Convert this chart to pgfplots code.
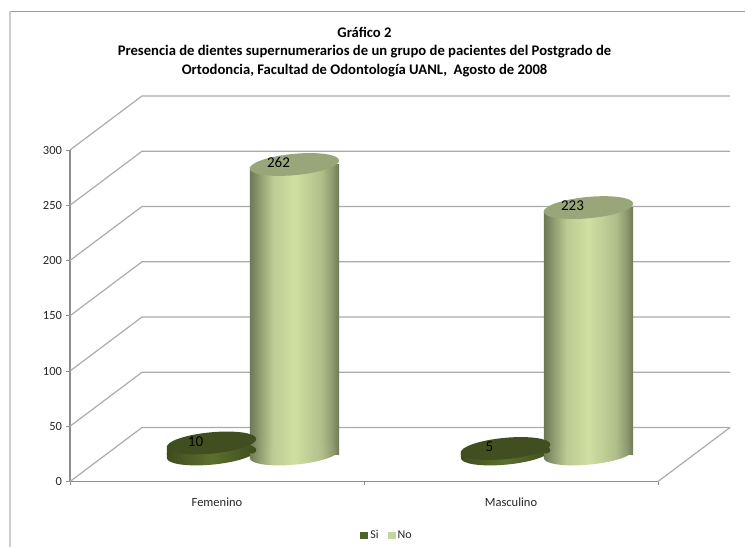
\documentclass[border=0pt]{standalone}
\usepackage{pgfplots}
\usepackage{pgfplotstable}
\usepackage{fontspec}
\setmainfont{Carlito}
\pgfplotsset{compat=1.18}

\definecolor{gridgray}{HTML}{ABABAB}
\definecolor{axisgray}{HTML}{8C8C8C}
\definecolor{labelgray}{HTML}{262626}
\definecolor{sikey}{HTML}{4F6228}
\definecolor{nokey}{HTML}{C3D69B}
\definecolor{sitop}{HTML}{414F20}
\definecolor{notop}{HTML}{98A67A}
\definecolor{noA}{HTML}{6D7855}
\definecolor{noB}{HTML}{98A678}
\definecolor{noC}{HTML}{BCCB93}
\definecolor{noD}{HTML}{CFE0A2}
\definecolor{noE}{HTML}{B0BF8A}
\definecolor{noF}{HTML}{8F9C70}
\definecolor{siA}{HTML}{3E4C1C}
\definecolor{siB}{HTML}{5C702E}

% cylinder side shadings: the path's width spans 25bp..75bp
\pgfdeclarehorizontalshading{cylno}{100bp}{
  color(0bp)=(noA); color(25bp)=(noA); color(32bp)=(noB); color(38bp)=(noC);
  color(50bp)=(noD); color(65bp)=(noE); color(71bp)=(noF); color(75bp)=(noA);
  color(100bp)=(noA)}
\pgfdeclarehorizontalshading{cylsi}{100bp}{
  color(0bp)=(siA); color(25bp)=(siA); color(50bp)=(siB); color(75bp)=(siA);
  color(100bp)=(siA)}

% cylinder ends: tilted ellipses seen in perspective
\newcommand{\cylellipse}{\pgfpathellipse{\pgfpointorigin}{\pgfpoint{44.7pt}{4.2pt}}{\pgfpoint{-1pt}{10.6pt}}}
% the base also closes the wedge between its low left end and the side
\newcommand{\cylbase}{\cylellipse
  \pgfpathrectangle{\pgfpoint{-44.7pt}{-4.2pt}}{\pgfpoint{8pt}{4.8pt}}}
\pgfdeclareplotmark{baseno}{\cylbase\pgfshadepath{cylno}{0}\pgfusepath{discard}}
\pgfdeclareplotmark{basesi}{\cylbase\pgfshadepath{cylsi}{0}\pgfusepath{discard}}
\newcommand{\cylcorner}{%
  \pgfsetfillcolor{white}%
  \pgfpathrectangle{\pgfpoint{-45.5pt}{-3pt}}{\pgfpoint{6.5pt}{3.6pt}}%
  \pgfusepathqfill}
\pgfdeclareplotmark{topno}{\cylcorner\pgfsetfillcolor{notop}\cylellipse\pgfusepathqfill}
\pgfdeclareplotmark{topsi}{\cylcorner\pgfsetfillcolor{sitop}\cylellipse\pgfusepathqfill}

% one small table per cylinder: Si and No, Femenino and Masculino
\pgfplotstableread{
x     v
0.359 10
}\siFem
\pgfplotstableread{
x     v
1.359 5
}\siMas
\pgfplotstableread{
x     v
0.641 262
}\noFem
\pgfplotstableread{
x     v
1.641 223
}\noMas

% a complete cylinder: base ellipse, shaded side and labelled top
\newcommand{\cylinder}[4]{%
  \addplot[forget plot,only marks,mark=#2] table[x=x,y expr=0] {#1};
  \addplot[forget plot,ybar,/pgf/bar shift=0pt,bar width=89.4pt,draw=none,shading=#3] table[x=x,y=v] {#1};
  \addplot[forget plot,only marks,mark=#4,nodes near coords] table[x=x,y=v] {#1};
}

\begin{document}
\begin{tikzpicture}[x=1pt,y=1pt]
\path[use as bounding box] (0,0) rectangle (745,547);

% chart frame
\draw[color=black!40,line width=0.9pt] (10,536) -- (745,536);
\draw[color=black!20,line width=2pt] (10,536) -- (10,0);

% title
\node[align=center,font=\fontsize{14.65}{18.5}\selectfont\bfseries,text=black] at (364.5,495)
  {Gráfico 2\\Presencia de dientes supernumerarios de un grupo de pacientes del Postgrado de\\Ortodoncia, Facultad de Odontología UANL,\ \ Agosto de 2008};

% front plane: the value and category axes
\begin{axis}[
  at={(70pt,65.5pt)},anchor=south west,
  scale only axis,width=588pt,height=331.5pt,
  clip=false,
  xmin=0,xmax=2,ymin=0,ymax=300,
  axis lines=left,
  axis line style={-,color=axisgray,line width=1.1pt},
  ytick={0,50,100,150,200,250,300},
  xtick={0.5,1.5},
  xticklabels={Femenino,Masculino},
  minor xtick={0,1,2},
  tick align=outside,
  major tick length=3.5pt,
  minor tick length=3.5pt,
  ytick style={color=axisgray,line width=0.8pt},
  xtick style={draw=none},
  minor x tick style={draw=axisgray,line width=0.8pt},
  ticklabel style={font=\fontsize{12.5}{14}\selectfont,text=labelgray},
  /pgf/number format/assume math mode=true,
  xticklabel style={yshift=-9pt},
  yticklabel style={xshift=-1pt},
]
% side wall and back wall lines for every value step
\pgfplotsinvokeforeach{0,50,100,150,200,250,300}{
  \draw[color=gridgray,line width=1.2pt,line join=round] (axis cs:0,#1) -- ++(72pt,54pt) -- ++(588pt,0pt);
}
\draw[color=gridgray,line width=1.2pt] (axis cs:2,0) -- ++(72pt,54pt);
\end{axis}

% the cylinders stand half way into the depth of the floor
\begin{axis}[
  at={(106pt,93pt)},anchor=south west,
  scale only axis,width=588pt,height=331.5pt,
  clip=false,hide axis,
  xmin=0,xmax=2,ymin=0,ymax=300,
  /pgf/number format/assume math mode=true,
  every node near coord/.append style={anchor=center,xshift=-16pt,yshift=1.5pt,
    font=\fontsize{15}{17}\selectfont,text=black},
  legend style={at={(0.478,-0.246)},anchor=center,draw=none,fill=none,
    legend columns=2,font=\fontsize{12}{14}\selectfont,text=labelgray,
    /tikz/every even column/.append style={column sep=7pt},
    inner sep=0pt},
  legend image code/.code={\fill[#1] (0pt,-3.5pt) rectangle (8pt,4pt);},
]
\addlegendimage{fill=sikey,draw=none}\addlegendentry{Si}
\addlegendimage{fill=nokey,draw=none}\addlegendentry{No}

\cylinder{\siFem}{basesi}{cylsi}{topsi}
\cylinder{\siMas}{basesi}{cylsi}{topsi}
\cylinder{\noFem}{baseno}{cylno}{topno}
\cylinder{\noMas}{baseno}{cylno}{topno}
\end{axis}
\end{tikzpicture}
\end{document}
